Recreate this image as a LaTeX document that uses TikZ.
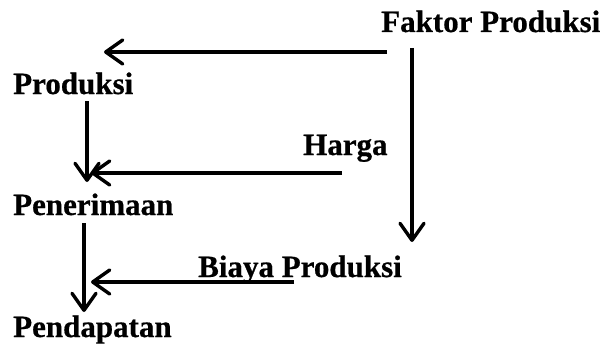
\documentclass[tikz,border=0pt]{standalone}
\usepackage{fontspec}
\setmainfont{Liberation Serif}[BoldFeatures={FakeBold=0.6}]
\usetikzlibrary{arrows.meta}
\begin{document}
\begin{tikzpicture}[x=1pt,y=1pt,
  label/.style={anchor=base west,inner sep=0pt,font=\bfseries\fontsize{31}{31}\selectfont},
  flow/.style={line width=3.4pt,-{Straight Barb[length=17pt,width=24pt,round]}}]
  \useasboundingbox (0,0) rectangle (609,-345);
  % terms of the income chain
  \node[label] (fp)    at (381,-32)  {Faktor Produksi};
  \node[label] (prod)  at (13,-94)   {Produksi};
  \node[label] (harga) at (303,-155) {Harga};
  \node[label] (pen)   at (13,-215)  {Penerimaan};
  \node[label] (biaya) at (198,-277) {Biaya Produksi};
  \node[label] (pend)  at (13,-337)  {Pendapatan};
  % flows between the terms
  \draw[flow] ([shift={(6,-20)}]fp.base west)    -- ([shift={(91,42)}]prod.base west);
  \draw[flow] ([shift={(31,-16)}]fp.base west)   -- ([shift={(214,35)}]biaya.base west);
  \draw[flow] ([shift={(74,-7)}]prod.base west)  -- ([shift={(74,33)}]pen.base west);
  \draw[flow] ([shift={(39,-18)}]harga.base west) -- ([shift={(78,42)}]pen.base west);
  \draw[flow] ([shift={(71,-8)}]pen.base west)   -- ([shift={(71,25)}]pend.base west);
  \draw[flow] ([shift={(96,-5)}]biaya.base west) -- ([shift={(78,55)}]pend.base west);
\end{tikzpicture}
\end{document}
